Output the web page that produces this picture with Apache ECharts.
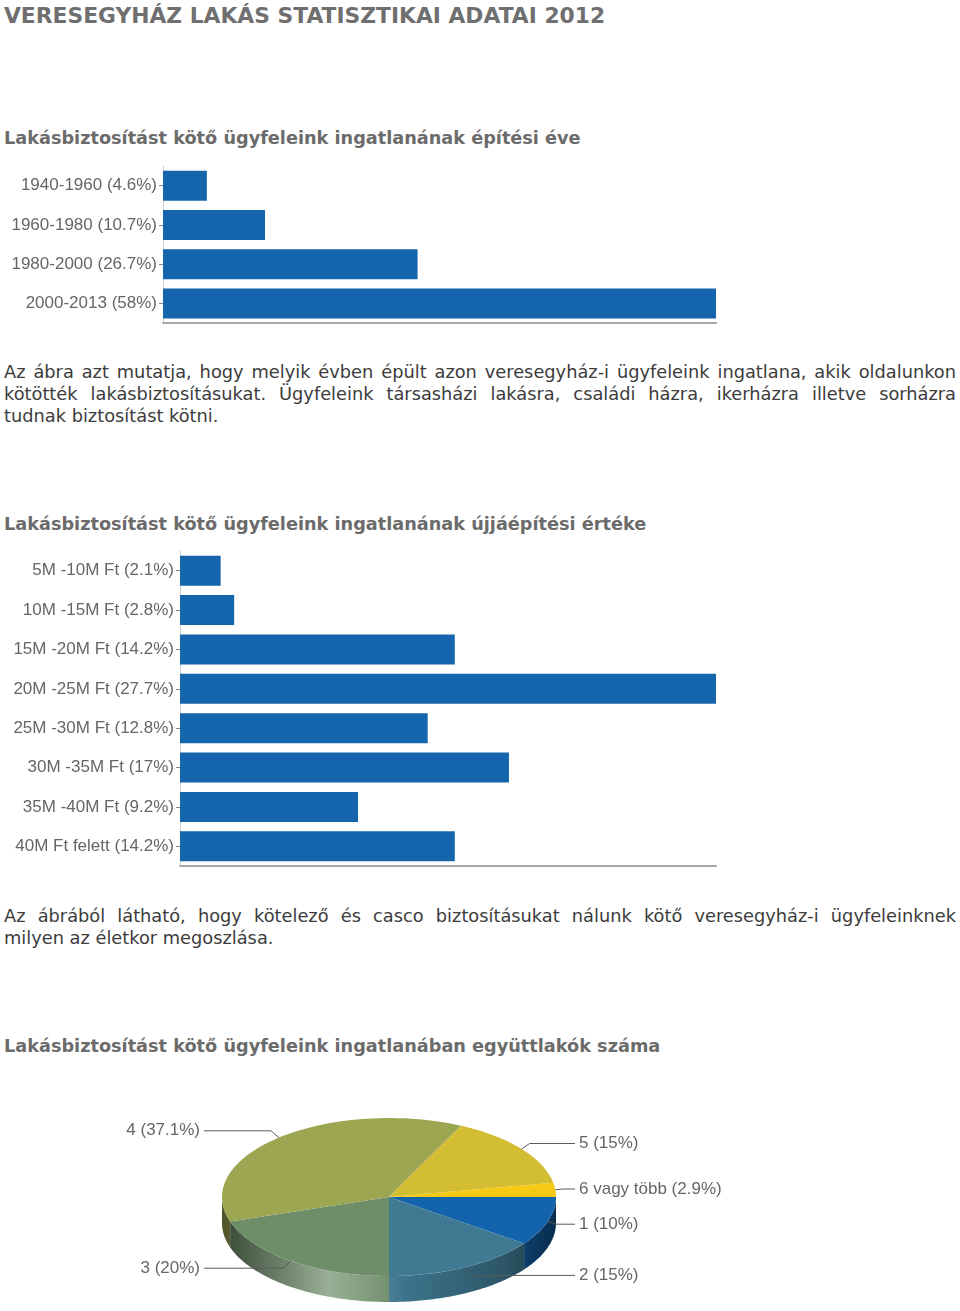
<!DOCTYPE html>
<html>
<head>
<meta charset="utf-8">
<script src="https://cdn.jsdelivr.net/npm/echarts@6.0.0/dist/echarts.min.js"></script>
<style>
  body { margin: 0; background: #fff; width: 960px; height: 1311px; position: relative; overflow: hidden; }
  .t { position: absolute; left: 4px; font-family: "DejaVu Sans", Verdana, sans-serif; white-space: nowrap; }
  .title { top: 3px; font-size: 21.8px; line-height: 26px; font-weight: bold; color: #6f6f6f; }
  .sub { font-size: 17.7px; line-height: 22px; font-weight: bold; color: #6b6b6b; }
  .p { width: 952px; font-size: 17.8px; line-height: 22px; color: #3c3c3c; }
  .j { text-align: justify; text-align-last: justify; }
  .chart { position: absolute; left: 0; }
</style>
</head>
<body>
<div class="t title">VERESEGYHÁZ LAKÁS STATISZTIKAI ADATAI 2012</div>

<div class="t sub" style="top:127px">Lakásbiztosítást kötő ügyfeleink ingatlanának építési éve</div>
<div id="c1" class="chart" style="top:160px;width:960px;height:175px"></div>
<div class="t p j" style="top:361px">Az ábra azt mutatja, hogy melyik évben épült azon veresegyház-i ügyfeleink ingatlana, akik oldalunkon</div>
<div class="t p j" style="top:383px">kötötték lakásbiztosításukat. Ügyfeleink társasházi lakásra, családi házra, ikerházra illetve sorházra</div>
<div class="t p" style="top:405px">tudnak biztosítást kötni.</div>

<div class="t sub" style="top:513px">Lakásbiztosítást kötő ügyfeleink ingatlanának újjáépítési értéke</div>
<div id="c2" class="chart" style="top:540px;width:960px;height:340px"></div>
<div class="t p j" style="top:905px">Az ábrából látható, hogy kötelező és casco biztosításukat nálunk kötő veresegyház-i ügyfeleinknek</div>
<div class="t p" style="top:927px">milyen az életkor megoszlása.</div>

<div class="t sub" style="top:1035px">Lakásbiztosítást kötő ügyfeleink ingatlanában együttlakók száma</div>
<div id="c3" class="chart" style="top:1090px;left:100px;width:700px;height:221px"></div>

<script>
// építési év
var yearCats = ['1940-1960', '1960-1980', '1980-2000', '2000-2013'];
var yearValues = [4.6, 10.7, 26.7, 58];

// újjáépítési érték
var valueCats = ['5M -10M Ft', '10M -15M Ft', '15M -20M Ft', '20M -25M Ft',
                 '25M -30M Ft', '30M -35M Ft', '35M -40M Ft', '40M Ft felett'];
var valueValues = [2.1, 2.8, 14.2, 27.7, 12.8, 17, 9.2, 14.2];

// együttlakók száma
var pieNames = ['1', '2', '3', '4', '5', '6 vagy több'];
var pieValues = [10, 15, 20, 37.1, 15, 2.9];

var barColor = '#1565ad';
var pieColors = ['#1464ad', '#3f7a92', '#6d8e69', '#9da650', '#d3bd33', '#f6c915'];

function barOption(cats, vals, grid) {
    return {
        animation: false,
        grid: grid,
        xAxis: {
            type: 'value', min: 0, max: 'dataMax',
            axisLine: {show: true, lineStyle: {color: '#a8a8a8', width: 2}},
            axisTick: {show: false}, axisLabel: {show: false}, splitLine: {show: false}
        },
        yAxis: {
            type: 'category', inverse: true, data: cats,
            axisLine: {show: true, lineStyle: {color: '#cfcfcf'}},
            axisTick: {show: true, length: 4, alignWithLabel: true, lineStyle: {color: '#888'}},
            axisLabel: {
                margin: 6, color: '#666', fontSize: 17, fontFamily: 'Liberation Sans',
                formatter: function (v, i) { return v + ' (' + vals[i] + '%)'; }
            }
        },
        series: [{
            type: 'bar', data: vals, barWidth: 30,
            itemStyle: {color: barColor}
        }]
    };
}

var c1 = echarts.init(document.getElementById('c1'));
c1.setOption(barOption(yearCats, yearValues, {left: 163, width: 553, top: 6, height: 157}));

var c2 = echarts.init(document.getElementById('c2'));
c2.setOption(barOption(valueCats, valueValues, {left: 180, width: 536, top: 11, height: 315}));

// 3D-like pie with a custom series
function shade(hex, f) {
    var n = parseInt(hex.slice(1), 16);
    var r = n >> 16, g = (n >> 8) & 255, b = n & 255;
    function c(v) {
        v = f >= 1 ? v + (255 - v) * (f - 1) : v * f;
        return Math.max(0, Math.min(255, Math.round(v)));
    }
    return 'rgb(' + c(r) + ',' + c(g) + ',' + c(b) + ')';
}

var total = pieValues.reduce(function (a, b) { return a + b; }, 0);
var cx = 289, cy = 107, rx = 167, ry = 79, depth = 26;

function pt(a, dy) {
    return [cx + rx * Math.cos(a), cy + ry * Math.sin(a) + (dy || 0)];
}

function renderSlice(params, api) {
    var i = params.dataIndex;
    var before = 0;
    for (var k = 0; k < i; k++) before += pieValues[k];
    var a0 = before / total * Math.PI * 2;
    var a1 = (before + api.value(0)) / total * Math.PI * 2;
    var col = pieColors[i];
    var children = [];

    var top = [[cx, cy]];
    var n = 60;
    for (k = 0; k <= n; k++) top.push(pt(a0 + (a1 - a0) * k / n));
    children.push({type: 'polygon', z2: 10, shape: {points: top}, style: {fill: col}});

    var s0 = Math.max(a0, 0), s1 = Math.min(a1, Math.PI);
    if (s1 > s0) {
        var side = [];
        for (k = 0; k <= n; k++) side.push(pt(s0 + (s1 - s0) * k / n));
        for (k = n; k >= 0; k--) side.push(pt(s0 + (s1 - s0) * k / n, depth));
        children.push({
            type: 'polygon', z2: 2, shape: {points: side},
            style: {fill: {
                type: 'linear', global: true, x: cx - rx, y: 0, x2: cx + rx, y2: 0,
                colorStops: [
                    {offset: 0, color: shade(col, 0.5)},
                    {offset: 0.32, color: shade(col, 1.3)},
                    {offset: 0.55, color: shade(col, 0.95)},
                    {offset: 0.85, color: shade(col, 0.7)},
                    {offset: 1, color: shade(col, 0.45)}
                ]
            }}
        });
    }

    var mid = (a0 + a1) / 2;
    var e = pt(mid);
    var right = Math.cos(mid) >= 0;
    var ly = e[1] + 9 * Math.sin(mid);
    var lineEnd = right ? 475 : 104;
    children.push({
        type: 'polyline', z2: 20,
        shape: {points: [e, [e[0] + (right ? 8 : -8), ly], [lineEnd, ly]]},
        style: {stroke: '#5a5a5a', lineWidth: 1, fill: null}
    });
    children.push({
        type: 'text', z2: 20,
        style: {
            text: pieNames[i] + ' (' + api.value(0) + '%)',
            x: right ? 479 : 100, y: ly,
            align: right ? 'left' : 'right', verticalAlign: 'middle',
            fill: '#666', font: '17px "Liberation Sans"'
        }
    });
    return {type: 'group', children: children};
}

var c3 = echarts.init(document.getElementById('c3'));
c3.setOption({
    animation: false,
    series: [{
        type: 'custom', coordinateSystem: 'none',
        renderItem: renderSlice,
        data: pieValues.map(function (v, i) { return {name: pieNames[i], value: v}; })
    }]
});
</script>
</body>
</html>
